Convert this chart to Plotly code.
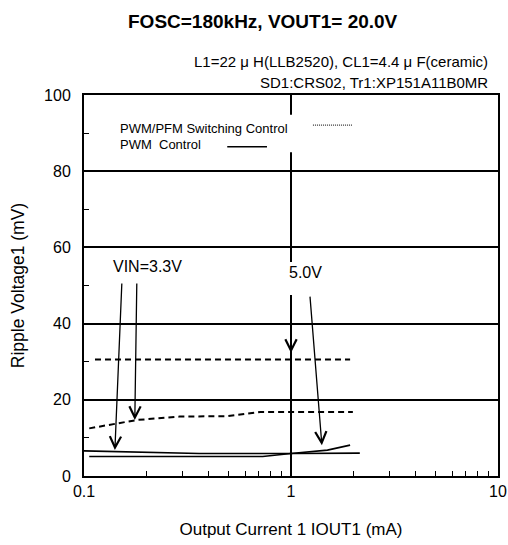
import math
import plotly.graph_objects as go

# data
# PWM/PFM switching control (dashed)
pfm_a_x = [0.113, 0.2, 0.5, 1.0, 1.93]
pfm_a_y = [30.6, 30.6, 30.6, 30.6, 30.6]
pfm_b_x = [0.106, 0.134, 0.18, 0.29, 0.49, 0.71, 1.0, 1.99]
pfm_b_y = [12.5, 13.4, 14.7, 15.6, 15.7, 16.8, 16.8, 16.8]
# PWM control (solid)
pwm_a_x = [0.1, 0.2, 0.36, 1.0, 1.5, 1.93]
pwm_a_y = [6.6, 6.3, 5.9, 5.9, 6.8, 8.1]
pwm_b_x = [0.106, 0.73, 1.0, 2.15]
pwm_b_y = [5.1, 5.1, 5.9, 6.0]

x_ticks = [0.1, 1, 10]
x_tick_text = ["0.1", "1", "10"]
x_minor = [0.2, 0.3, 0.4, 0.5, 0.6, 0.7, 0.8, 0.9, 2, 3, 4, 5, 6, 7, 8, 9]

FONT = "Liberation Sans, Arial, sans-serif"

fig = go.Figure()
for xs, ys in [(pfm_a_x, pfm_a_y), (pfm_b_x, pfm_b_y)]:
    fig.add_trace(go.Scatter(x=xs, y=ys, mode="lines",
                             line=dict(color="black", width=2, dash="6px,4px")))
for xs, ys in [(pwm_a_x, pwm_a_y), (pwm_b_x, pwm_b_y)]:
    fig.add_trace(go.Scatter(x=xs, y=ys, mode="lines",
                             line=dict(color="black", width=1.6)))

# white patches that break the x=1 gridline (behind legend and label)
for y0, y1 in [(85.0, 94.8), (47.5, 56.2)]:
    fig.add_shape(type="rect", xref="paper", yref="y", x0=0.45, x1=0.6, y0=y0, y1=y1,
                  fillcolor="white", line=dict(width=0), layer="above")

# legend drawn by hand: text left, sample right
fig.add_annotation(text="PWM/PFM Switching Control", xref="paper", yref="y", x=0.082, y=91.3,
                   xanchor="left", yanchor="middle", showarrow=False,
                   font=dict(size=13, family=FONT, color="black"))
fig.add_annotation(text="PWM  Control", xref="paper", yref="y", x=0.082, y=86.9,
                   xanchor="left", yanchor="middle", showarrow=False,
                   font=dict(size=13, family=FONT, color="black"))
fig.add_shape(type="line", xref="paper", yref="y", x0=0.553, x1=0.648, y0=92.1, y1=92.1,
              line=dict(color="black", width=1, dash="1px,1px"), layer="above")
fig.add_shape(type="line", xref="paper", yref="y", x0=0.346, x1=0.442, y0=86.4, y1=86.4,
              line=dict(color="black", width=1.6), layer="above")

# labels
fig.add_annotation(text="VIN=3.3V", x=-0.691, y=55.0, showarrow=False,
                   font=dict(size=16, family=FONT, color="black"))
fig.add_annotation(text="5.0V", x=0.072, y=53.5, showarrow=False,
                   font=dict(size=16, family=FONT, color="black"))

# arrows (head at data point, tail offset in px)
arrows = [(0.141, 6.8, 7, -168), (0.176, 14.7, 2, -138), (1.0, 32.3, 0, -58), (1.41, 8.1, -12, -150)]
for hx, hy, ax, ay in arrows:
    fig.add_annotation(x=math.log10(hx), y=hy, ax=ax, ay=ay, text="", showarrow=True,
                       arrowhead=5, arrowsize=1.7, arrowwidth=1.3, arrowcolor="black")

# title block
fig.add_annotation(text="<b>FOSC=180kHz, VOUT1= 20.0V</b>", xref="paper", yref="paper",
                   x=0.433, y=1.192, xanchor="center", yanchor="middle", showarrow=False,
                   font=dict(size=19, family=FONT, color="black"))
fig.add_annotation(text="L1=22 μ H(LLB2520), CL1=4.4 μ F(ceramic)", xref="paper", yref="paper",
                   x=0.981, y=1.087, xanchor="right", yanchor="middle", showarrow=False,
                   font=dict(size=15, family=FONT, color="black"))
fig.add_annotation(text="SD1:CRS02, Tr1:XP151A11B0MR", xref="paper", yref="paper",
                   x=0.981, y=1.034, xanchor="right", yanchor="middle", showarrow=False,
                   font=dict(size=15, family=FONT, color="black"))

fig.update_xaxes(type="log", range=[-1, 1], tickvals=x_ticks, ticktext=x_tick_text,
                 showgrid=True, gridcolor="black", gridwidth=1.5,
                 ticks="inside", ticklen=5, tickcolor="black",
                 minor=dict(tickvals=x_minor, ticks="inside", ticklen=5, tickcolor="black", showgrid=False),
                 showline=True, linecolor="black", linewidth=2, mirror=True,
                 tickfont=dict(size=16, family=FONT, color="black"), ticklabelstandoff=0,
                 title=dict(text="Output Current 1 IOUT1 (mA)", standoff=24,
                            font=dict(size=17, family=FONT, color="black")),
                 zeroline=False, automargin=False)
fig.update_yaxes(range=[0, 100], dtick=20,
                 showgrid=True, gridcolor="black", gridwidth=1.5,
                 ticks="inside", ticklen=5, tickcolor="black",
                 minor=dict(dtick=10, ticks="inside", ticklen=5, tickcolor="black", showgrid=False),
                 showline=True, linecolor="black", linewidth=2, mirror=True,
                 tickfont=dict(size=16, family=FONT, color="black"), ticklabelstandoff=8,
                 title=dict(text="Ripple Voltage1 (mV)", standoff=15,
                            font=dict(size=17.5, family=FONT, color="black")),
                 zeroline=False, automargin=False)

fig.update_layout(width=508, height=545, margin=dict(l=84, r=10, t=95, b=69),
                  plot_bgcolor="white", paper_bgcolor="white", showlegend=False,
                  font=dict(family=FONT, color="black"))

fig.write_html("out.html", config={"displayModeBar": False},
               post_script="document.body.style.margin='0px';")
